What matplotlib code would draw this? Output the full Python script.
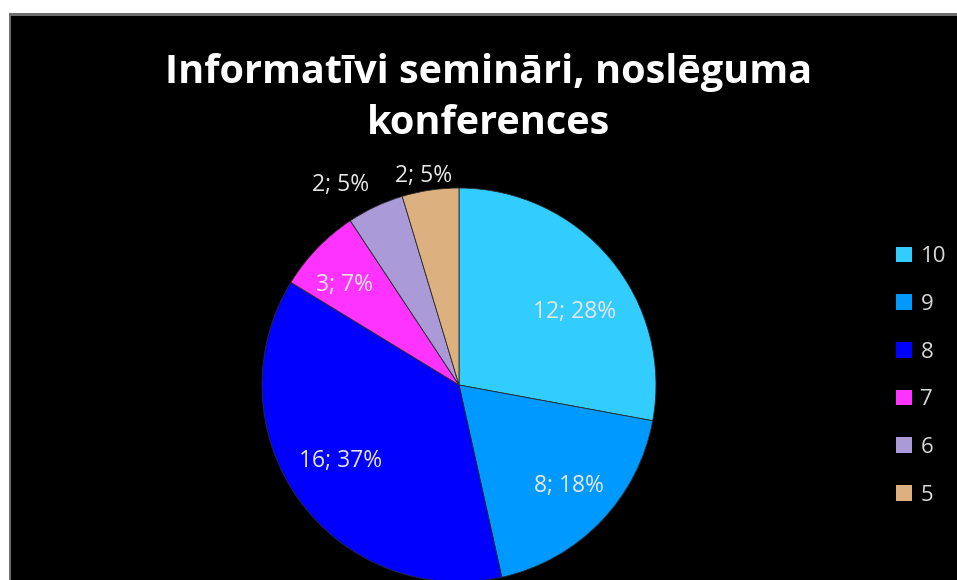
import numpy as np
import matplotlib
matplotlib.use('Agg')
import matplotlib.pyplot as plt
from matplotlib.patches import Rectangle, Patch

# data
categories = ['10', '9', '8', '7', '6', '5']
counts = [12, 8, 16, 3, 2, 2]
percents = [28, 18, 37, 7, 5, 5]
colors = ['#33CCFF', '#0099FF', '#0000FF', '#FF33FF', '#AB9AD8', '#DDB07F']
# label placement (fraction of radius, angle shift from wedge middle in degrees)
label_radius = [0.70, 0.75, 0.71, 0.78, 1.19, 1.09]
label_shift = [-6.7, 2.3, -3.6, 2.2, 5.2, 1.0]

W, H = 957, 580
fig = plt.figure(figsize=(W / 100, H / 100), dpi=100, facecolor='white')

# frame: grey border + black chart area
fig.patches.append(Rectangle((9 / W, 0), 1, 1 - 13 / H, transform=fig.transFigure,
                             facecolor='#6E6E6E', edgecolor='none', zorder=-10))
fig.patches.append(Rectangle((11 / W, 0), 1, 1 - 16 / H, transform=fig.transFigure,
                             facecolor='black', edgecolor='none', zorder=-9))

cx, cy, r = 459, 385, 197
ax = fig.add_axes([(cx - r) / W, (H - cy - r) / H, 2 * r / W, 2 * r / H])
ax.set_facecolor('none')
wedges, _ = ax.pie(counts, colors=colors, startangle=90, counterclock=False, radius=1,
                   wedgeprops=dict(edgecolor='#2a2a2a', linewidth=0.6))
ax.set_xlim(-1, 1)
ax.set_ylim(-1, 1)
ax.set_aspect('equal')
ax.axis('off')

for w, n, p, rr, sh in zip(wedges, counts, percents, label_radius, label_shift):
    ang = np.deg2rad((w.theta1 + w.theta2) / 2 + sh)
    ax.text(rr * np.cos(ang), rr * np.sin(ang) - 0.012, f'{n}; {p}%', ha='center', va='center',
            fontsize=16.5, color='#E6E6E6', family='Open Sans')

fig.text(489 / W, 1 - 98 / H, 'Informatīvi semināri, noslēguma\nkonferences', ha='center',
         va='center', fontsize=28.5, fontweight='bold', color='white', family='Open Sans',
         linespacing=1.4)

handles = [Patch(facecolor=c, edgecolor='none') for c in colors]
leg = fig.legend(handles, categories, loc='center left', bbox_to_anchor=(876 / W, 1 - 376 / H),
                 frameon=False, labelspacing=1.2, handlelength=0.72,
                 handleheight=0.72, handletextpad=0.38, prop={'family': 'Open Sans', 'size': 16})
for t in leg.get_texts():
    t.set_color('#D9D9D9')

fig.savefig('out.png', dpi=100, facecolor='white')
